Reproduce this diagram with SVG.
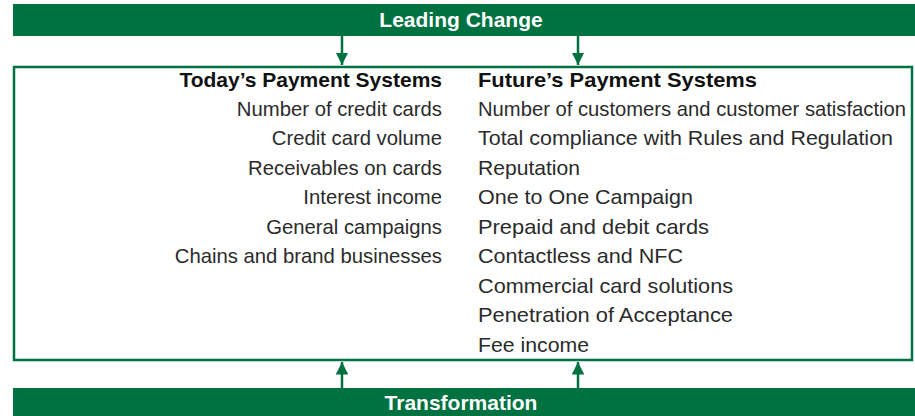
<svg xmlns="http://www.w3.org/2000/svg" width="915" height="416" viewBox="0 0 915 416">
<defs>
<style>
.bar{fill:#007140}
.bt{font-family:"Liberation Sans",Arial,sans-serif;font-weight:bold;font-size:21px;fill:#fff;text-anchor:middle}
.h{font-family:"Liberation Sans",Arial,sans-serif;font-weight:bold;font-size:21px;fill:#111}
.t{font-family:"Liberation Sans",Arial,sans-serif;font-size:20.3px;fill:#2b2b2b}
.l{text-anchor:end}
.c{stroke:#007140;stroke-width:2.5;fill:none}
</style>
<marker id="ah" viewBox="0 0 10 10" refX="10" refY="5" markerWidth="5" markerHeight="5" markerUnits="strokeWidth" orient="auto">
<path d="M0,0 L10,5 L0,10 Z" fill="#007140"/>
</marker>
</defs>
<g id="leading-change">
<rect class="bar" x="13" y="4" width="902" height="32"/>
<text class="bt" x="461" y="27">Leading Change</text>
</g>
<g id="transformation">
<rect class="bar" x="13" y="388" width="902" height="28"/>
<text class="bt" x="461" y="410">Transformation</text>
</g>
<g id="payment-box">
<rect x="14" y="67" width="898" height="293" fill="#fff" stroke="#007140" stroke-width="2.5"/>
<text class="h l" x="442" y="87">Today’s Payment Systems</text>
<text class="t l" x="442" y="116">Number of credit cards</text>
<text class="t l" x="442" y="145">Credit card volume</text>
<text class="t l" x="442" y="175">Receivables on cards</text>
<text class="t l" x="442" y="204">Interest income</text>
<text class="t l" x="442" y="234">General campaigns</text>
<text class="t l" x="442" y="263">Chains and brand businesses</text>
<text class="h" x="478" y="87" textLength="279" lengthAdjust="spacingAndGlyphs">Future’s Payment Systems</text>
<text class="t" x="478" y="116" textLength="428" lengthAdjust="spacingAndGlyphs">Number of customers and customer satisfaction</text>
<text class="t" x="478" y="145" textLength="415" lengthAdjust="spacingAndGlyphs">Total compliance with Rules and Regulation</text>
<text class="t" x="478" y="175" textLength="102" lengthAdjust="spacingAndGlyphs">Reputation</text>
<text class="t" x="478" y="204" textLength="215" lengthAdjust="spacingAndGlyphs">One to One Campaign</text>
<text class="t" x="478" y="234" textLength="231" lengthAdjust="spacingAndGlyphs">Prepaid and debit cards</text>
<text class="t" x="478" y="263" textLength="205" lengthAdjust="spacingAndGlyphs">Contactless and NFC</text>
<text class="t" x="478" y="293" textLength="255" lengthAdjust="spacingAndGlyphs">Commercial card solutions</text>
<text class="t" x="478" y="322" textLength="255" lengthAdjust="spacingAndGlyphs">Penetration of Acceptance</text>
<text class="t" x="478" y="352" textLength="111" lengthAdjust="spacingAndGlyphs">Fee income</text>
</g>
<g id="connectors">
<line class="c" x1="342" y1="36" x2="342" y2="65" marker-end="url(#ah)"/>
<line class="c" x1="578" y1="36" x2="578" y2="65" marker-end="url(#ah)"/>
<line class="c" x1="342" y1="388" x2="342" y2="362" marker-end="url(#ah)"/>
<line class="c" x1="578" y1="388" x2="578" y2="362" marker-end="url(#ah)"/>
</g>
</svg>
